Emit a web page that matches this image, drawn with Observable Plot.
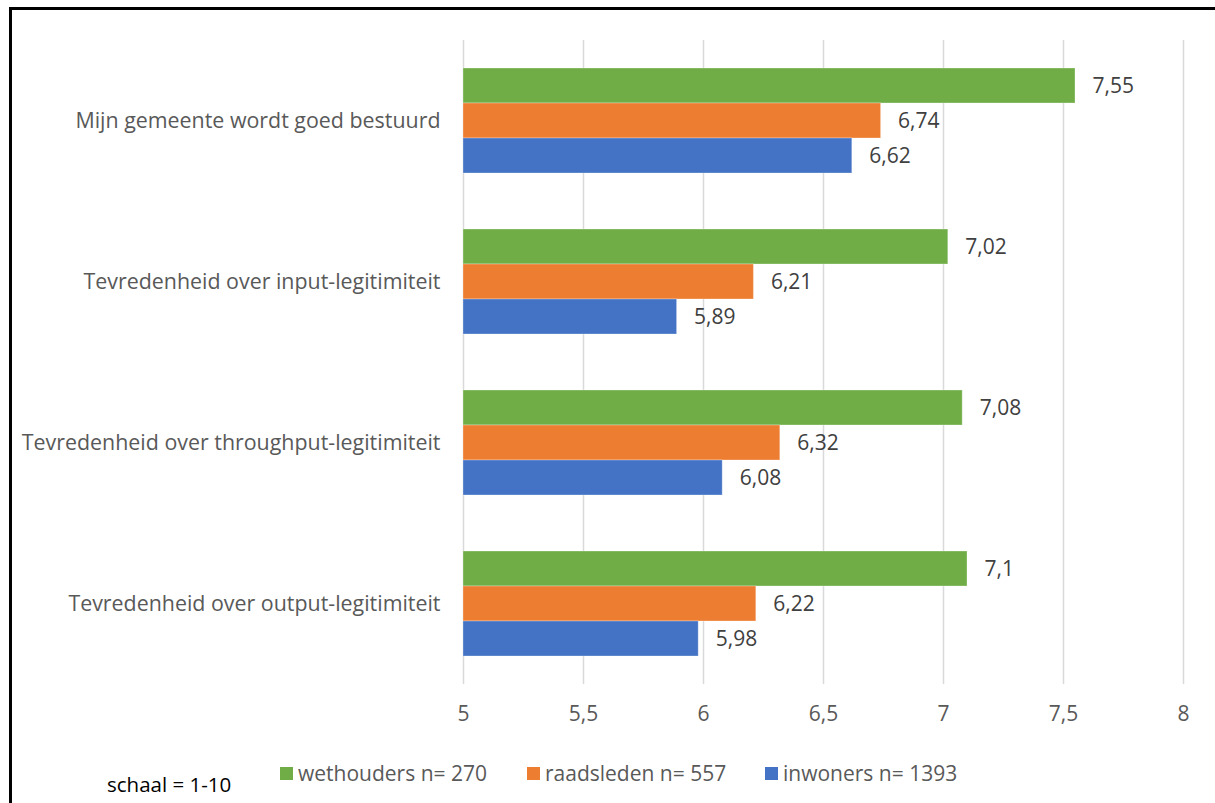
<!DOCTYPE html>
<html>
<head>
<meta charset="utf-8">
<script src="https://cdn.jsdelivr.net/npm/d3@7"></script>
<script src="https://cdn.jsdelivr.net/npm/@observablehq/plot@0.6"></script>
<style>
  html, body { margin: 0; padding: 0; background: #fff; }
  #page { position: relative; width: 1215px; height: 803px; overflow: hidden; font-family: "Open Sans", sans-serif; }
  #frame { position: absolute; left: 9px; top: 7px; width: 1300px; height: 900px; border-left: 3px solid #000; border-top: 3px solid #000; pointer-events: none; }
  #chart { position: absolute; left: 0; top: 0; }
  #legend { position: absolute; top: 759px; left: 0; width: 1215px; height: 32px; font-size: 21px; color: #595959; }
  .item { position: absolute; top: 0; display: flex; align-items: center; white-space: nowrap; }
  .sw { width: 13px; height: 13px; margin-right: 5px; }
  #note { position: absolute; left: 107px; top: 770px; font-size: 20.5px; color: #000; }
  #chart svg g[aria-label="fy-axis tick label"] text { font-size: 21.4px; }
</style>
</head>
<body>
<div id="page">
  <div id="chart"></div>
  <div id="legend"></div>
  <div id="note">schaal = 1-10</div>
  <div id="frame"></div>
</div>
<script>
// Survey statements (rows of the chart)
const questions = [
  "Mijn gemeente wordt goed bestuurd",
  "Tevredenheid over input-legitimiteit",
  "Tevredenheid over throughput-legitimiteit",
  "Tevredenheid over output-legitimiteit"
];

// Respondent groups (bars within each row)
const series = ["wethouders n= 270", "raadsleden n= 557", "inwoners n= 1393"];
const seriesColors = ["#70ad47", "#ed7d31", "#4472c4"];

// Average scores per group, in the order of `questions`
const wethouders = [7.55, 7.02, 7.08, 7.1];
const raadsleden = [6.74, 6.21, 6.32, 6.22];
const inwoners = [6.62, 5.89, 6.08, 5.98];

// Axis ticks
const xTicks = [5, 5.5, 6, 6.5, 7, 7.5, 8];

const values = [wethouders, raadsleden, inwoners];
const rows = [];
questions.forEach((q, i) => {
  series.forEach((s, j) => rows.push({question: q, series: s, value: values[j][i]}));
});

const comma = d => String(d).replace(".", ",");

const chart = Plot.plot({
  width: 1215,
  height: 740,
  marginTop: 38,
  marginBottom: 55,
  marginLeft: 463,
  marginRight: 32,
  style: {fontFamily: "'Open Sans', sans-serif", fontSize: "21px", color: "#595959", background: "transparent"},
  facet: {data: rows, y: "question"},
  fy: {domain: questions, padding: 0, label: null, axis: "left", tickSize: 0, tickPadding: 23},
  y: {domain: series, axis: null, paddingInner: 0, paddingOuter: 0.745},
  x: {domain: [5, 8], ticks: xTicks, tickFormat: comma, tickSize: 0, tickPadding: 22, label: null, axis: "bottom"},
  color: {domain: series, range: seriesColors},
  marks: [
    Plot.ruleX(xTicks, {stroke: "#d9d9d9", strokeWidth: 1.5}),
    Plot.barX(rows, {
      y: "series", x1: 5, x2: "value", fill: "series",
      stroke: "#ffffff", strokeOpacity: 0.3, strokeWidth: 1
    }),
    Plot.text(rows, {
      y: "series", x: "value", text: d => comma(d.value),
      dx: 17, textAnchor: "start", fill: "#404040"
    })
  ]
});
document.getElementById("chart").append(chart);

// Legend built from the same series and colours
const legend = document.getElementById("legend");
const legendX = [280, 527, 765];
series.forEach((s, i) => {
  const item = document.createElement("div");
  item.className = "item";
  item.style.left = legendX[i] + "px";
  const sw = document.createElement("span");
  sw.className = "sw";
  sw.style.background = seriesColors[i];
  const label = document.createElement("span");
  label.textContent = s;
  item.append(sw, label);
  legend.append(item);
});
</script>
</body>
</html>
